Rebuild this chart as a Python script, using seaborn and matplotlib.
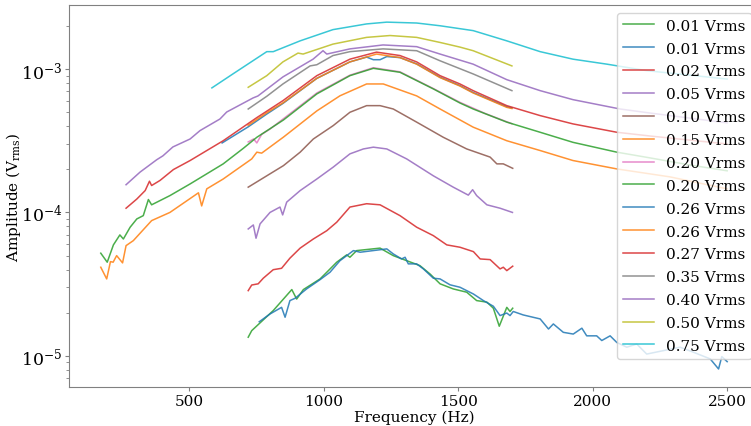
import matplotlib
matplotlib.use("Agg")
import matplotlib.pyplot as plt
import seaborn as sns

# Frequency (Hz) and amplitude (Vrms) for each drive level
f_001a = [720, 733, 813, 882, 900, 925, 987, 1012, 1049, 1086, 1098, 1123, 1210, 1259, 1309,
          1358, 1396, 1433, 1482, 1532, 1569, 1607, 1631, 1653, 1681, 1693, 1703]
a_001a = [1.35e-5, 1.50e-5, 2.07e-5, 2.90e-5, 2.49e-5, 2.90e-5, 3.44e-5, 3.83e-5, 4.50e-5, 5.06e-5,
          4.87e-5, 5.42e-5, 5.64e-5, 5.00e-5, 4.61e-5, 4.26e-5, 3.72e-5, 3.18e-5, 2.93e-5, 2.78e-5,
          2.43e-5, 2.37e-5, 2.15e-5, 1.61e-5, 2.18e-5, 2.04e-5, 2.15e-5]

f_001b = [761, 801, 844, 857, 875, 894, 937, 987, 1024, 1061, 1111, 1136, 1235, 1259, 1290, 1303,
          1315, 1346, 1371, 1408, 1433, 1470, 1507, 1557, 1594, 1631, 1656, 1681, 1693, 1705, 1742,
          1805, 1836, 1854, 1891, 1928, 1960, 1978, 2015, 2034, 2065, 2090, 2127, 2164, 2201, 2325,
          2375, 2437, 2468, 2480, 2500]
a_001b = [1.73e-5, 1.96e-5, 2.18e-5, 1.86e-5, 2.43e-5, 2.52e-5, 2.93e-5, 3.40e-5, 3.83e-5, 4.61e-5,
          5.42e-5, 5.28e-5, 5.57e-5, 5.14e-5, 4.74e-5, 4.87e-5, 4.38e-5, 4.38e-5, 4.04e-5, 3.48e-5,
          3.44e-5, 3.13e-5, 3.01e-5, 2.70e-5, 2.43e-5, 2.22e-5, 1.91e-5, 1.99e-5, 1.91e-5, 2.04e-5,
          1.93e-5, 1.81e-5, 1.54e-5, 1.67e-5, 1.46e-5, 1.42e-5, 1.56e-5, 1.38e-5, 1.38e-5, 1.28e-5,
          1.38e-5, 1.24e-5, 1.15e-5, 1.21e-5, 1.03e-5, 1.15e-5, 1.06e-5, 9.53e-6, 8.11e-6, 9.89e-6,
          9.12e-6]

f_002 = [720, 733, 757, 776, 813, 844, 875, 913, 962, 1012, 1049, 1098, 1160, 1210, 1284, 1346,
         1408, 1458, 1507, 1557, 1582, 1619, 1656, 1668, 1681, 1703]
a_002 = [2.85e-5, 3.12e-5, 3.18e-5, 3.48e-5, 3.99e-5, 4.08e-5, 4.80e-5, 5.64e-5, 6.53e-5, 7.46e-5,
         8.55e-5, 1.09e-4, 1.15e-4, 1.13e-4, 9.50e-5, 7.89e-5, 6.89e-5, 5.94e-5, 5.72e-5, 5.33e-5,
         4.74e-5, 4.69e-5, 4.04e-5, 4.15e-5, 3.93e-5, 4.22e-5]

f_005 = [720, 739, 749, 764, 801, 838, 848, 863, 913, 975, 1036, 1098, 1148, 1185, 1235, 1309,
         1408, 1482, 1538, 1554, 1569, 1607, 1656, 1702]
a_005 = [7.67e-5, 8.18e-5, 6.61e-5, 8.32e-5, 1.00e-4, 1.09e-4, 9.61e-5, 1.18e-4, 1.42e-4, 1.71e-4,
         2.07e-4, 2.56e-4, 2.77e-4, 2.85e-4, 2.77e-4, 2.36e-4, 1.80e-4, 1.50e-4, 1.32e-4, 1.44e-4,
         1.31e-4, 1.13e-4, 1.07e-4, 1.00e-4]

f_010 = [720, 789, 851, 913, 962, 1036, 1098, 1160, 1210, 1259, 1346, 1445, 1532, 1619, 1644,
         1668, 1703]
a_010 = [1.50e-4, 1.80e-4, 2.12e-4, 2.63e-4, 3.25e-4, 4.03e-4, 4.99e-4, 5.55e-4, 5.55e-4, 5.26e-4,
         4.26e-4, 3.34e-4, 2.77e-4, 2.43e-4, 2.18e-4, 2.18e-4, 2.03e-4]

f_015 = [172, 194, 208, 218, 231, 253, 266, 293, 361, 429, 535, 547, 566, 627, 665, 733, 752, 770,
         851, 975, 1061, 1160, 1222, 1346, 1433, 1556, 1681, 1805, 1927, 2090, 2287, 2500]
a_015 = [4.15e-5, 3.44e-5, 4.54e-5, 4.50e-5, 5.00e-5, 4.45e-5, 5.87e-5, 6.36e-5, 8.77e-5, 1.00e-4,
         1.37e-4, 1.11e-4, 1.46e-4, 1.71e-4, 1.92e-4, 2.36e-4, 2.63e-4, 2.59e-4, 3.35e-4, 5.10e-4,
         6.50e-4, 7.86e-4, 7.86e-4, 6.49e-4, 5.26e-4, 3.93e-4, 3.16e-4, 2.70e-4, 2.30e-4, 2.01e-4,
         1.77e-4, 1.46e-4]

f_020a = [720, 740, 752, 770, 800, 851, 975, 1098, 1185, 1284, 1408, 1507, 1600, 1700]
a_020a = [3.10e-4, 3.25e-4, 3.05e-4, 3.50e-4, 3.80e-4, 4.50e-4, 6.80e-4, 9.05e-4, 1.02e-3, 9.55e-4,
          7.30e-4, 5.85e-4, 4.90e-4, 4.15e-4]

f_020b = [172, 196, 219, 243, 256, 281, 306, 330, 349, 361, 429, 504, 627, 702, 752, 851, 975,
          1098, 1185, 1284, 1408, 1507, 1556, 1681, 1805, 1927, 2090, 2213, 2362, 2500]
a_020b = [5.20e-5, 4.50e-5, 5.94e-5, 6.97e-5, 6.53e-5, 7.88e-5, 9.01e-5, 9.50e-5, 1.23e-4, 1.13e-4,
          1.31e-4, 1.58e-4, 2.18e-4, 2.80e-4, 3.34e-4, 4.41e-4, 6.70e-4, 8.98e-4, 1.01e-3, 9.48e-4,
          7.26e-4, 5.79e-4, 5.26e-4, 4.26e-4, 3.62e-4, 3.08e-4, 2.63e-4, 2.40e-4, 2.14e-4, 1.95e-4]

f_026a = [623, 720, 789, 849, 975, 1098, 1160, 1185, 1210, 1235, 1284, 1346, 1433, 1507, 1556,
          1681, 1700]
a_026a = [3.05e-4, 3.95e-4, 4.85e-4, 5.75e-4, 8.60e-4, 1.12e-3, 1.21e-3, 1.16e-3, 1.16e-3, 1.22e-3,
          1.20e-3, 1.085e-3, 8.75e-4, 7.65e-4, 6.85e-4, 5.45e-4, 5.35e-4]

f_026b = [720, 789, 849, 975, 1098, 1197, 1284, 1346, 1433, 1507, 1556, 1681, 1700]
a_026b = [4.05e-4, 4.95e-4, 5.80e-4, 8.60e-4, 1.12e-3, 1.27e-3, 1.20e-3, 1.08e-3, 8.70e-4, 7.60e-4,
          6.80e-4, 5.40e-4, 5.30e-4]

f_027 = [266, 306, 337, 353, 361, 392, 442, 504, 627, 752, 849, 975, 1098, 1197, 1284, 1346, 1433,
         1507, 1556, 1681, 1805, 1927, 2090, 2213, 2500]
a_027 = [1.07e-4, 1.24e-4, 1.42e-4, 1.65e-4, 1.54e-4, 1.67e-4, 1.99e-4, 2.30e-4, 3.16e-4, 4.58e-4,
         6.01e-4, 8.98e-4, 1.17e-3, 1.31e-3, 1.24e-3, 1.12e-3, 8.98e-4, 7.86e-4, 7.06e-4, 5.55e-4,
         4.73e-4, 4.14e-4, 3.62e-4, 3.41e-4, 3.00e-4]

f_035 = [720, 789, 849, 950, 975, 1035, 1098, 1221, 1346, 1433, 1556, 1700]
a_035 = [5.26e-4, 6.45e-4, 7.86e-4, 1.05e-3, 1.07e-3, 1.24e-3, 1.32e-3, 1.38e-3, 1.34e-3, 1.14e-3,
         9.23e-4, 7.06e-4]

f_040 = [266, 318, 380, 403, 440, 504, 541, 615, 640, 738, 756, 849, 961, 998, 1012, 1098, 1221,
         1346, 1433, 1556, 1681, 1805, 1927, 2102, 2213, 2500]
a_040 = [1.56e-4, 1.91e-4, 2.33e-4, 2.48e-4, 2.86e-4, 3.25e-4, 3.72e-4, 4.48e-4, 5.01e-4, 6.28e-4,
         6.48e-4, 8.80e-4, 1.17e-3, 1.34e-3, 1.27e-3, 1.38e-3, 1.47e-3, 1.43e-3, 1.27e-3, 1.08e-3,
         8.42e-4, 7.06e-4, 6.11e-4, 5.26e-4, 4.93e-4, 4.21e-4]

f_050 = [720, 789, 849, 905, 924, 1035, 1160, 1247, 1346, 1433, 1507, 1556, 1700]
a_050 = [7.45e-4, 8.98e-4, 1.12e-3, 1.29e-3, 1.27e-3, 1.49e-3, 1.66e-3, 1.71e-3, 1.66e-3, 1.53e-3,
         1.42e-3, 1.34e-3, 1.05e-3]

f_075 = [585, 663, 789, 813, 913, 1035, 1160, 1235, 1346, 1433, 1556, 1681, 1805, 1927, 2053,
         2201, 2350, 2500]
a_075 = [7.38e-4, 9.23e-4, 1.32e-3, 1.32e-3, 1.57e-3, 1.88e-3, 2.06e-3, 2.12e-3, 2.09e-3, 2.00e-3,
         1.85e-3, 1.57e-3, 1.32e-3, 1.17e-3, 1.08e-3, 9.73e-4, 9.10e-4, 8.50e-4]

labels = ["0.01 Vrms", "0.01 Vrms", "0.02 Vrms", "0.05 Vrms", "0.10 Vrms", "0.15 Vrms",
          "0.20 Vrms", "0.20 Vrms", "0.26 Vrms", "0.26 Vrms", "0.27 Vrms", "0.35 Vrms",
          "0.40 Vrms", "0.50 Vrms", "0.75 Vrms"]
freqs = [f_001a, f_001b, f_002, f_005, f_010, f_015, f_020a, f_020b, f_026a, f_026b, f_027,
         f_035, f_040, f_050, f_075]
amps = [a_001a, a_001b, a_002, a_005, a_010, a_015, a_020a, a_020b, a_026a, a_026b, a_027,
        a_035, a_040, a_050, a_075]
colors = ["#2ca02c", "#1f77b4", "#d62728", "#9467bd", "#8c564b", "#ff7f0e", "#e377c2",
          "#2ca02c", "#1f77b4", "#ff7f0e", "#d62728", "#7f7f7f", "#9467bd", "#bcbd22", "#17becf"]

plt.rcParams["font.family"] = ["DejaVu Serif"]
plt.rcParams["mathtext.fontset"] = "dejavuserif"
plt.rcParams["font.size"] = 11

fig = plt.figure(figsize=(7.51, 4.27), dpi=100)
ax = fig.add_axes([0.0919, 0.0913, 0.919, 0.8946])

for f, a, c, lab in zip(freqs, amps, colors, labels):
    sns.lineplot(x=f, y=a, color=c, label=lab, ax=ax, linewidth=1.1, alpha=0.85,
                 estimator=None, sort=False)

ax.set_yscale("log")
ax.set_xlim(54, 2619)
ax.set_ylim(6.07e-6, 2.79e-3)
ax.set_xticks([500, 1000, 1500, 2000, 2500])
ax.set_xlabel("Frequency (Hz)", labelpad=1)
ax.set_ylabel(r"Amplitude (V$_{\rm rms}$)")
ax.yaxis.set_label_coords(-0.066, 0.5)
for s in ax.spines.values():
    s.set_color("0.5")
ax.tick_params(which="major", color="0.5", length=3, pad=2)
ax.tick_params(which="minor", color="0.5", length=2)
ax.tick_params(axis="y", which="major", labelsize=12.5)
ax.legend(loc="upper right", framealpha=0.8, labelspacing=0.58)

fig.savefig("out.png", dpi=100)
